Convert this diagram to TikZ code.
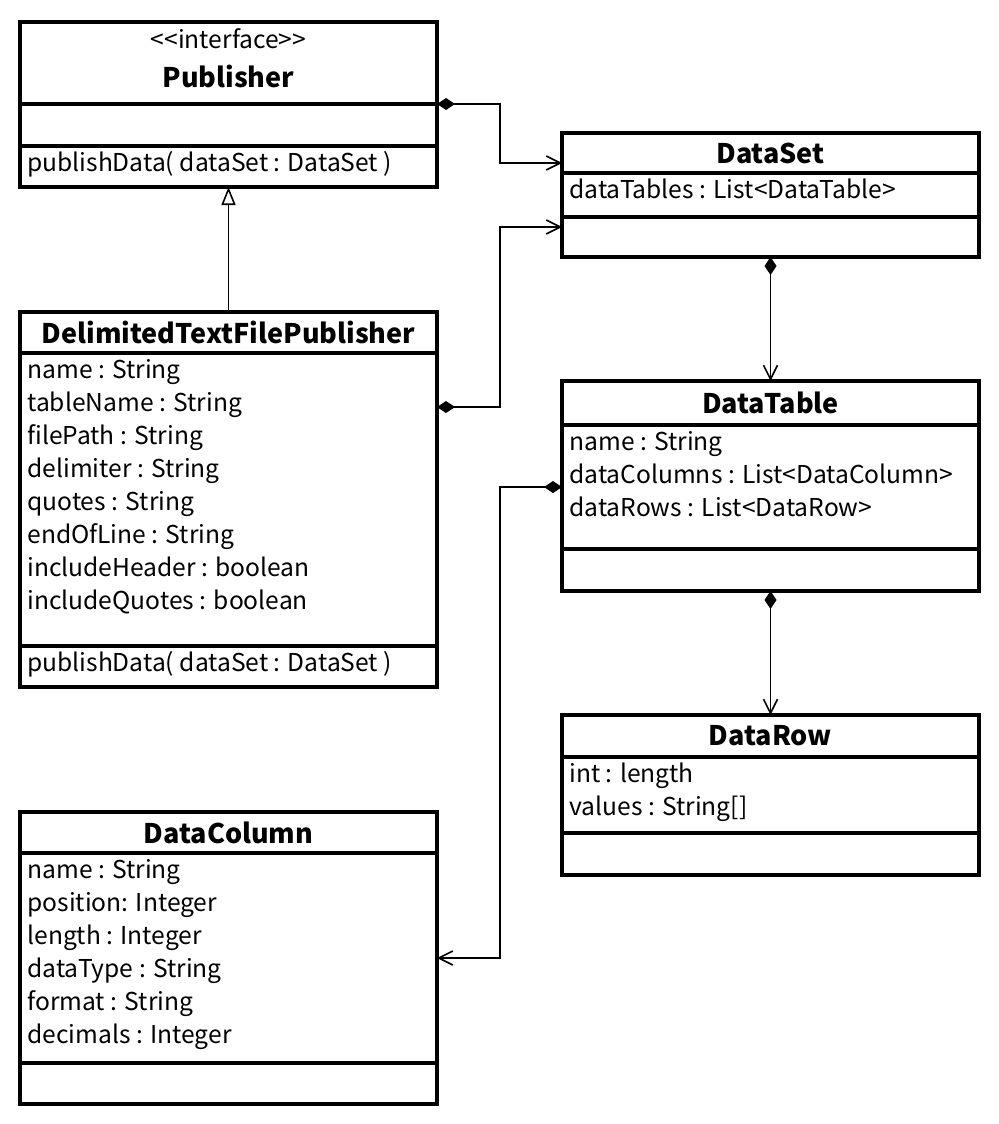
\documentclass[tikz,border=0pt]{standalone}
\usepackage{fontspec}
\setmainfont{Noto Sans CJK KR}
\usetikzlibrary{arrows.meta,positioning}

\begin{document}
\begin{tikzpicture}[
    box/.style={draw,line width=2pt,outer sep=0pt,inner sep=0pt,minimum width=208.5pt},
    title/.style={box,font=\fontsize{13.5}{16}\selectfont\bfseries},
    attr/.style={anchor=base west,inner sep=0pt,font=\fontsize{12.3}{16}\selectfont},
    comp/.style={line width=0.8pt,{Diamond[length=9pt,width=6pt]}-{Straight Barb[length=7pt,width=7pt]}},
    gen/.style={line width=0.8pt,-{Triangle[open,length=9pt,width=7pt]}}
  ]
  \useasboundingbox (0,0) rectangle (499.5pt,-562pt);

  % Publisher
  \node[title,anchor=north west,minimum height=41pt] (pubT) at (10pt,-11pt) {};
  \node[box,minimum height=21pt,below=0pt of pubT] (pubA) {};
  \node[box,minimum height=20.5pt,below=0pt of pubA] (pubM) {};
  \node[attr,anchor=base,yshift=-13pt] (pubS) at (pubT.north) {{<}{<}interface{>}{>}};
  \node[attr,anchor=base,yshift=-32.5pt,font=\fontsize{13.5}{16}\selectfont\bfseries] (pubN) at (pubT.north) {Publisher};
  \node[attr,xshift=3.5pt,yshift=-12.5pt] (pubM1) at (pubM.north west) {publishData( dataSet : DataSet )};

  % DataSet
  \node[title,anchor=north west,minimum height=20pt] (dsT) at (281pt,-66.5pt) {DataSet};
  \node[box,minimum height=22pt,below=0pt of dsT] (dsA) {};
  \node[box,minimum height=20pt,below=0pt of dsA] (dsM) {};
  \node[attr,xshift=3.5pt,yshift=-12.5pt] (ds1) at (dsA.north west) {dataTables : List<DataTable>};

  % DelimitedTextFilePublisher
  \node[title,anchor=north west,minimum height=20.5pt] (dtfpT) at (10pt,-156pt) {DelimitedTextFilePublisher};
  \node[box,minimum height=146.5pt,below=0pt of dtfpT] (dtfpA) {};
  \node[box,minimum height=20.5pt,below=0pt of dtfpA] (dtfpM) {};
  \foreach \t [count=\n] in {name : String,tableName : String,filePath : String,delimiter : String,quotes : String,endOfLine : String,includeHeader : boolean,includeQuotes : boolean}
    \node[attr,xshift=3.5pt,yshift={-12.5pt-(\n-1)*16.5pt}] (dtfp\n) at (dtfpA.north west) {\t};
  \node[attr,xshift=3.5pt,yshift=-12.5pt] (dtfpM1) at (dtfpM.north west) {publishData( dataSet : DataSet )};

  % DataTable
  \node[title,anchor=north west,minimum height=22pt] (dtT) at (281pt,-190.5pt) {DataTable};
  \node[box,minimum height=62pt,below=0pt of dtT] (dtA) {};
  \node[box,minimum height=21pt,below=0pt of dtA] (dtM) {};
  \foreach \t [count=\n] in {name : String,dataColumns : List<DataColumn>,dataRows : List<DataRow>}
    \node[attr,xshift=3.5pt,yshift={-12.5pt-(\n-1)*16.5pt}] (dt\n) at (dtA.north west) {\t};

  % DataRow
  \node[title,anchor=north west,minimum height=21pt] (drT) at (281pt,-357.5pt) {DataRow};
  \node[box,minimum height=38pt,below=0pt of drT] (drA) {};
  \node[box,minimum height=21pt,below=0pt of drA] (drM) {};
  \foreach \t [count=\n] in {int : length,values : String[]}
    \node[attr,xshift=3.5pt,yshift={-12.5pt-(\n-1)*16.5pt}] (dr\n) at (drA.north west) {\t};

  % DataColumn
  \node[title,anchor=north west,minimum height=20.5pt] (dcT) at (10pt,-406pt) {DataColumn};
  \node[box,minimum height=105pt,below=0pt of dcT] (dcA) {};
  \node[box,minimum height=20.5pt,below=0pt of dcA] (dcM) {};
  \foreach \t [count=\n] in {name : String,position: Integer,length : Integer,dataType : String,format : String,decimals : Integer}
    \node[attr,xshift=3.5pt,yshift={-12.5pt-(\n-1)*16.5pt}] (dc\n) at (dcA.north west) {\t};

  % connectors
  \coordinate (jx) at (250pt,0);
  \coordinate (dsIn1) at ([yshift=5pt]dsT.south west);
  \coordinate (dsIn2) at ([yshift=-5pt]dsM.north west);
  \coordinate (dtfpOut) at ([yshift=-27pt]dtfpA.north east);
  \coordinate (dtOut) at ([yshift=-31pt]dtA.north west);
  \coordinate (dcIn) at ([yshift=-52.5pt]dcA.north east);

  \draw[gen] (dtfpT.north) -- (pubM.south);
  \draw[comp] (pubT.south east) -| (jx |- dsIn1) -- (dsIn1);
  \draw[comp] (dtfpOut) -| (jx |- dsIn2) -- (dsIn2);
  \draw[comp] (dsM.south) -- (dtT.north);
  \draw[comp] (dtOut) -| (jx |- dcIn) -- (dcIn);
  \draw[comp] (dtM.south) -- (drT.north);
\end{tikzpicture}
\end{document}
